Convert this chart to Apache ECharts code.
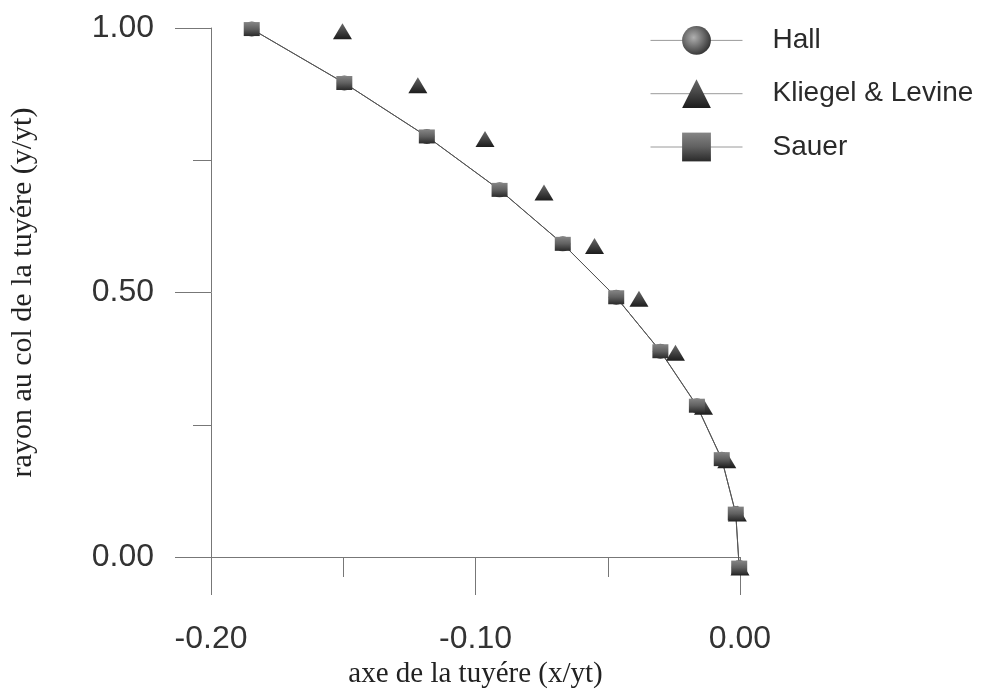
<!DOCTYPE html>
<html>
<head>
<meta charset="utf-8">
<script src="https://cdn.jsdelivr.net/npm/echarts@6/dist/echarts.min.js"></script>
<style>
html,body{margin:0;padding:0;background:#fff;}
#chart{width:981px;height:696px;}
</style>
</head>
<body>
<div id="chart"></div>
<script>
// ---- data ----
const seriesNames = ['Hall', 'Kliegel & Levine', 'Sauer'];
const sauerX = [-0.1846, -0.1496, -0.1184, -0.0909, -0.0670, -0.0468, -0.0301, -0.0163, -0.0069, -0.0016, -0.0003];
const sauerY = [0.998, 0.896, 0.795, 0.694, 0.592, 0.491, 0.389, 0.286, 0.185, 0.082, -0.020];
const hallX  = [-0.1846, -0.1496, -0.1184, -0.0909, -0.0670, -0.0468, -0.0301, -0.0163, -0.0069, -0.0016, -0.0003];
const hallY  = [0.998, 0.896, 0.795, 0.694, 0.592, 0.491, 0.389, 0.286, 0.185, 0.082, -0.020];
const klX    = [-0.1503, -0.1218, -0.0964, -0.0741, -0.0550, -0.0382, -0.0244, -0.0138, -0.0050, -0.0010, 0.0000];
const klY    = [0.994, 0.892, 0.790, 0.689, 0.588, 0.488, 0.386, 0.284, 0.183, 0.082, -0.020];
const xTicks = [-0.20, -0.10, 0.00];
const yTicks = [0.00, 0.50, 1.00];

const pairs = (xs, ys) => xs.map((x, i) => [x, ys[i]]);

const squareGrad = {type:'linear', x:0, y:0, x2:0, y2:1, colorStops:[{offset:0,color:'#858585'},{offset:0.5,color:'#606060'},{offset:1,color:'#2a2a2a'}]};
const triGrad = {type:'linear', x:0, y:0, x2:0, y2:1, colorStops:[{offset:0,color:'#6a6a6a'},{offset:1,color:'#1c1c1c'}]};
const circGrad = {type:'radial', x:0.4, y:0.4, r:0.6, colorStops:[{offset:0,color:'#b0b0b0'},{offset:1,color:'#3a3a3a'}]};

const chart = echarts.init(document.getElementById('chart'), null, {renderer:'canvas'});
const tickFont = 'Liberation Sans, Arial, sans-serif';
const titleFont = 'Liberation Serif, Times New Roman, serif';

chart.setOption({
  backgroundColor: '#ffffff',
  animation: false,
  grid: {left: 209, top: 28, width: 531, height: 529, containLabel: false},
  legend: {
    data: seriesNames,
    orient: 'vertical',
    left: 645,
    top: 21,
    itemWidth: 92,
    itemHeight: 36,
    itemGap: 24.5,
    textStyle: {fontFamily: tickFont, fontSize: 28, color: '#2a2a2a', padding: [0, 0, 0, 25]},
    lineStyle: {color: '#9a9a9a', width: 1, opacity: 1}
  },
  xAxis: {
    type: 'value', min: -0.2, max: 0, interval: 0.1,
    name: 'axe de la tuyére (x/yt)', nameLocation: 'middle', nameGap: 97,
    nameTextStyle: {fontFamily: titleFont, fontSize: 29, color: '#222'},
    axisLine: {show: true, onZero: false, lineStyle: {color: '#777', width: 1}},
    axisTick: {show: true, inside: false, length: 38, lineStyle: {color: '#777', width: 1}},
    minorTick: {show: true, splitNumber: 2, length: 20, lineStyle: {color: '#777', width: 1}},
    splitLine: {show: false},
    axisLabel: {fontFamily: tickFont, fontSize: 32, color: '#333', margin: 66,
      formatter: v => (xTicks.find(t => Math.abs(t - v) < 1e-9) ?? v).toFixed(2)}
  },
  yAxis: {
    type: 'value', min: 0, max: 1, interval: 0.5,
    name: 'rayon au col de la tuyére (y/yt)', nameLocation: 'middle', nameGap: 173,
    nameTextStyle: {fontFamily: titleFont, fontSize: 30, color: '#222'},
    axisLine: {show: true, onZero: false, lineStyle: {color: '#777', width: 1}},
    axisTick: {show: true, inside: false, length: 36, lineStyle: {color: '#777', width: 1}},
    minorTick: {show: true, splitNumber: 2, length: 18, lineStyle: {color: '#777', width: 1}},
    splitLine: {show: false},
    axisLabel: {fontFamily: tickFont, fontSize: 32, color: '#333', margin: 57,
      formatter: v => (yTicks.find(t => Math.abs(t - v) < 1e-9) ?? v).toFixed(2)}
  },
  series: [
    {
      name: seriesNames[0], type: 'line', clip: false,
      data: pairs(hallX, hallY),
      symbol: 'circle', symbolSize: 15,
      itemStyle: {color: circGrad},
      lineStyle: {color: '#555', width: 1}
    },
    {
      name: seriesNames[1], type: 'line', clip: false,
      data: pairs(klX, klY),
      symbol: 'triangle', symbolSize: [19, 16],
      itemStyle: {color: triGrad},
      lineStyle: {opacity: 0, width: 0}
    },
    {
      name: seriesNames[2], type: 'line', clip: false,
      data: pairs(sauerX, sauerY),
      symbol: 'rect', symbolSize: [16, 14],
      itemStyle: {color: squareGrad},
      lineStyle: {color: '#555', width: 1}
    }
  ]
});
</script>
</body>
</html>
